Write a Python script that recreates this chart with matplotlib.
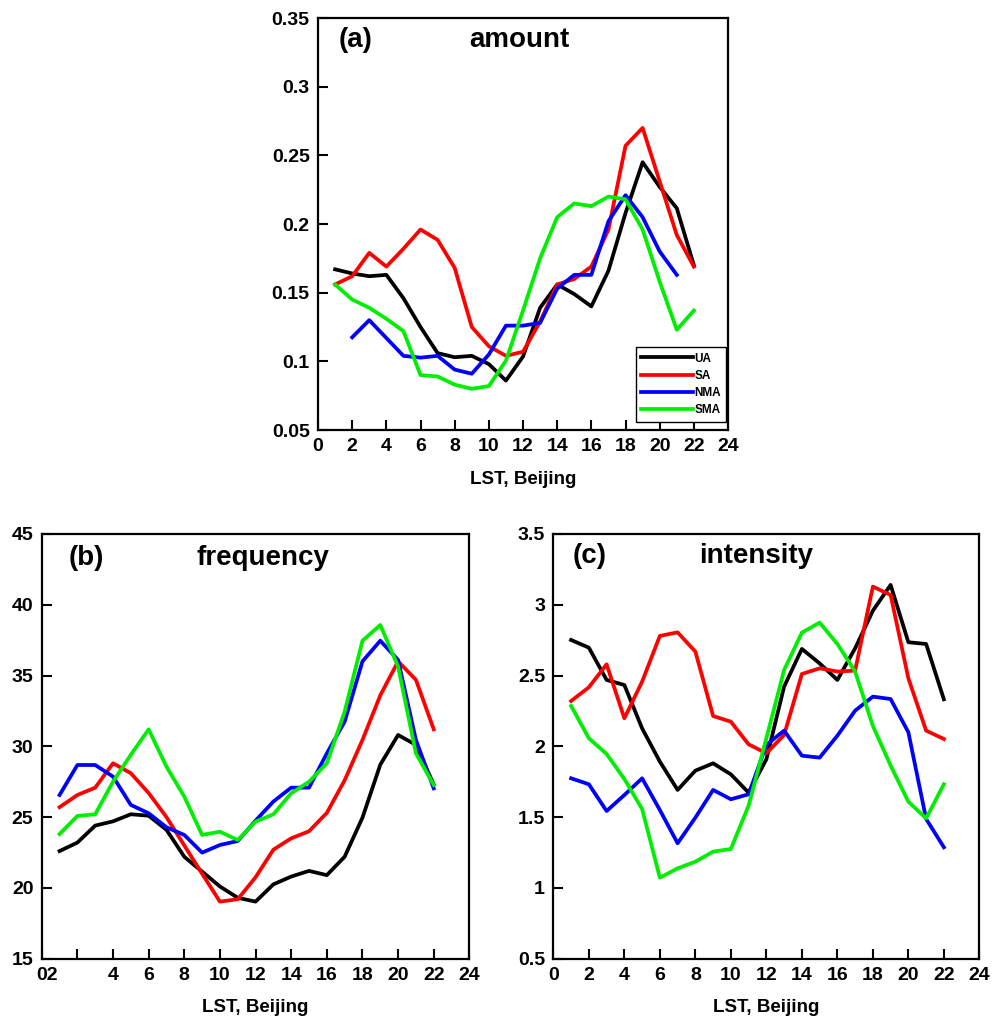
import numpy as np
import matplotlib
matplotlib.use("Agg")
import matplotlib.pyplot as plt
import matplotlib.transforms as mtransforms
from matplotlib.ticker import FormatStrFormatter

plt.rcParams["font.family"] = ["Liberation Sans", "DejaVu Sans"]
plt.rcParams["font.weight"] = "bold"

# hours (LST)
hours = np.arange(1, 23)
hours_nma_a = np.arange(2, 22)

# (a) amount
amt_ua = [0.167, 0.164, 0.162, 0.163, 0.146, 0.125, 0.106, 0.103, 0.104, 0.098, 0.086,
          0.1035, 0.139, 0.156, 0.149, 0.140, 0.166, 0.208, 0.245, 0.227, 0.2115, 0.170]
amt_sa = [0.156, 0.162, 0.179, 0.169, 0.182, 0.196, 0.1885, 0.168, 0.125, 0.111, 0.104,
          0.107, 0.129, 0.156, 0.160, 0.169, 0.196, 0.257, 0.270, 0.231, 0.192, 0.169]
amt_nma = [0.1175, 0.130, 0.117, 0.104, 0.1027, 0.104, 0.094, 0.091, 0.105, 0.126,
           0.126, 0.128, 0.153, 0.163, 0.163, 0.202, 0.221, 0.205, 0.180, 0.163]
amt_sma = [0.156, 0.145, 0.139, 0.131, 0.122, 0.090, 0.089, 0.083, 0.080, 0.082, 0.1005,
           0.137, 0.175, 0.205, 0.215, 0.213, 0.220, 0.218, 0.196, 0.158, 0.123, 0.137]

# (b) frequency
frq_ua = [22.6, 23.2, 24.4, 24.7, 25.2, 25.1, 24.1, 22.2, 21.15, 20.1, 19.3,
          19.03, 20.25, 20.8, 21.2, 20.9, 22.2, 24.96, 28.7, 30.8, 30.1, 27.3]
frq_sa = [25.7, 26.56, 27.08, 28.8, 28.1, 26.7, 25.0, 23.0, 21.0, 19.03, 19.2,
          20.75, 22.7, 23.5, 24.0, 25.3, 27.6, 30.45, 33.6, 36.0, 34.7, 31.2]
frq_nma = [26.56, 28.68, 28.68, 27.86, 25.86, 25.27, 24.28, 23.74, 22.49, 23.03, 23.31,
           24.75, 26.1, 27.08, 27.08, 29.5, 31.74, 36.0, 37.46, 36.1, 30.45, 27.03]
frq_sma = [23.8, 25.08, 25.2, 27.5, 29.4, 31.2, 28.56, 26.45, 23.74, 23.97, 23.38,
           24.68, 25.2, 26.68, 27.5, 28.8, 32.45, 37.46, 38.57, 35.63, 29.5, 27.27]

# (c) intensity
int_ua = [2.751, 2.697, 2.469, 2.433, 2.127, 1.892, 1.692, 1.828, 1.88, 1.802, 1.673,
          1.908, 2.422, 2.688, 2.586, 2.469, 2.692, 2.958, 3.14, 2.735, 2.723, 2.332]
int_sa = [2.32, 2.417, 2.579, 2.198, 2.457, 2.78, 2.805, 2.669, 2.214, 2.174, 2.014,
          1.951, 2.08, 2.511, 2.551, 2.528, 2.535, 3.128, 3.069, 2.48, 2.111, 2.052]
int_nma = [1.774, 1.732, 1.543, 1.656, 1.774, 1.55, 1.315, 1.496, 1.692, 1.626, 1.661,
           2.01, 2.111, 1.934, 1.92, 2.075, 2.252, 2.351, 2.334, 2.099, 1.487, 1.287]
int_sma = [2.285, 2.057, 1.946, 1.769, 1.557, 1.072, 1.138, 1.185, 1.256, 1.275, 1.581,
           2.057, 2.539, 2.803, 2.874, 2.723, 2.528, 2.144, 1.864, 1.609, 1.491, 1.732]

labels = ["UA", "SA", "NMA", "SMA"]
colors = ["#000000", "#ff0000", "#0000ff", "#00ee00"]
lw = 2.7

fig = plt.figure(figsize=(10.01, 10.19), dpi=100)
ax_a = fig.add_axes([0.3177, 0.578, 0.4096, 0.4043])
ax_b = fig.add_axes([0.0417, 0.0592, 0.4272, 0.4168])
ax_c = fig.add_axes([0.5528, 0.0592, 0.4256, 0.4168])


def style(ax, ylim, yticks, fmt):
    ax.set_xlim(0, 24)
    ax.set_ylim(*ylim)
    ax.set_xticks(np.arange(0, 25, 2))
    ax.set_yticks(yticks)
    ax.yaxis.set_major_formatter(FormatStrFormatter(fmt))
    ax.tick_params(direction="in", length=7, width=1.5, labelsize=14, pad=6,
                   top=False, right=False)
    for lab in ax.get_xticklabels() + ax.get_yticklabels():
        lab.set_fontweight("bold")
    for sp in ax.spines.values():
        sp.set_linewidth(1.6)
    ax.set_xlabel("LST, Beijing", fontsize=13.5, fontweight="bold", labelpad=11)


# panel a
ax_a.plot(hours, amt_ua, color=colors[0], lw=lw, label=labels[0])
ax_a.plot(hours, amt_sa, color=colors[1], lw=lw, label=labels[1])
ax_a.plot(hours_nma_a, amt_nma, color=colors[2], lw=lw, label=labels[2])
ax_a.plot(hours, amt_sma, color=colors[3], lw=lw, label=labels[3])
style(ax_a, (0.05, 0.35), np.arange(0.05, 0.351, 0.05), "%g")
ax_a.text(0.05, 0.947, "(a)", transform=ax_a.transAxes, fontsize=20, fontweight="bold", va="center")
ax_a.text(0.49, 0.947, "amount", transform=ax_a.transAxes, fontsize=20, fontweight="bold",
          va="center", ha="center")
leg = ax_a.legend(loc="lower right", bbox_to_anchor=(0.996, 0.02), handlelength=4.4,
                  handletextpad=0.1, labelspacing=0.45, borderpad=0.45, fancybox=False,
                  framealpha=1, borderaxespad=0.0, prop={"weight": "bold", "size": 8.5})
leg.get_frame().set_edgecolor("black")
leg.get_frame().set_linewidth(1.0)

# panel b
for ys, c in zip([frq_ua, frq_sa, frq_nma, frq_sma], colors):
    ax_b.plot(hours, ys, color=c, lw=lw)
style(ax_b, (15, 45), np.arange(15, 46, 5), "%g")
ax_b.set_xticklabels(["02", ""] + [str(v) for v in range(4, 25, 2)])
shift = mtransforms.ScaledTranslation(5 / 100, 0, fig.dpi_scale_trans)
for i, lab in enumerate(ax_b.get_xticklabels()):
    lab.set_fontweight("bold")
    if i == 0:
        lab.set_transform(lab.get_transform() + shift)
ax_b.text(0.062, 0.943, "(b)", transform=ax_b.transAxes, fontsize=20, fontweight="bold", va="center")
ax_b.text(0.518, 0.943, "frequency", transform=ax_b.transAxes, fontsize=20, fontweight="bold",
          va="center", ha="center")

# panel c
for ys, c in zip([int_ua, int_sa, int_nma, int_sma], colors):
    ax_c.plot(hours, ys, color=c, lw=lw)
style(ax_c, (0.5, 3.5), np.arange(0.5, 3.51, 0.5), "%g")
ax_c.text(0.046, 0.947, "(c)", transform=ax_c.transAxes, fontsize=20, fontweight="bold", va="center")
ax_c.text(0.477, 0.947, "intensity", transform=ax_c.transAxes, fontsize=20, fontweight="bold",
          va="center", ha="center")

fig.savefig("out.png", dpi=100)
